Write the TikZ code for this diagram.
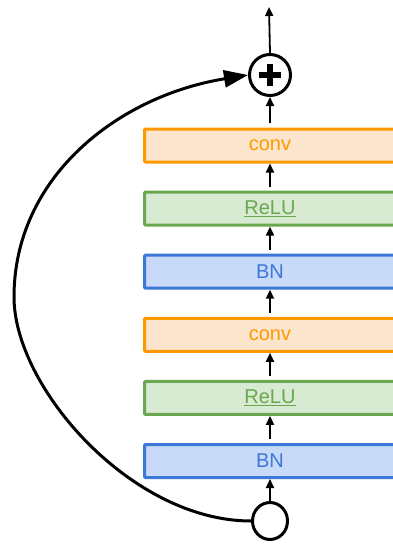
\documentclass[tikz,border=0pt]{standalone}
\usepackage{fontspec}
\setmainfont{Liberation Sans}
\usetikzlibrary{arrows.meta,shapes.geometric}
\definecolor{orB}{HTML}{FF9900}
\definecolor{orF}{HTML}{FCE5CD}
\definecolor{grB}{HTML}{6AA84F}
\definecolor{grF}{HTML}{D9EAD3}
\definecolor{blB}{HTML}{3C78D8}
\definecolor{blF}{HTML}{C9DAF8}
\begin{document}
\begin{tikzpicture}[x=1pt,y=-1pt,
  layer/.style={draw, line width=3pt, minimum width=251pt, minimum height=33pt, inner sep=0pt,
    rounded corners=1pt, font=\fontsize{20}{24}\selectfont},
  convbox/.style={layer, draw=orB, fill=orF, text=orB},
  relubox/.style={layer, draw=grB, fill=grF, text=grB},
  bnbox/.style={layer, draw=blB, fill=blF, text=blB},
  sarrow/.style={line width=1.8pt, -{Triangle[length=9pt,width=8pt]}},
  bigarrow/.style={line width=3pt, -{Triangle[length=24pt,width=17pt]}},
  ring/.style={draw, line width=3pt, inner sep=0pt}
]
\useasboundingbox (0,0) rectangle (393,544);
\clip (0,0) rectangle (393,544);

\node[convbox] (c1) at (270,145.5) {conv};
\node[relubox] (r1) at (270,208.6) {\underline{ReLU}};
\node[bnbox]   (b1) at (270,271.7) {BN};
\node[convbox] (c2) at (270,334.8) {conv};
\node[relubox] (r2) at (270,397.9) {\underline{ReLU}};
\node[bnbox]   (b2) at (270,461) {BN};

\node[ring, circle, minimum size=41pt,
  path picture={
    \draw[line width=6pt] ([xshift=-11pt]path picture bounding box.center) -- ([xshift=11pt]path picture bounding box.center);
    \draw[line width=6pt] ([yshift=-11pt]path picture bounding box.center) -- ([yshift=11pt]path picture bounding box.center);
  }] (plus) at (270,75) {};
\node[ring, ellipse, minimum width=35pt, minimum height=37pt] (in) at (270,521) {};

\coordinate (out) at (269,7);
\coordinate (L) at (14,297);

\draw[sarrow] (plus.north) -- (out);
\draw[sarrow] ([yshift=5pt]c1.north) -- (plus.south);
\draw[sarrow] ([yshift=4pt]r1.north) -- (c1.south);
\draw[sarrow] ([yshift=4pt]b1.north) -- (r1.south);
\draw[sarrow] ([yshift=4pt]c2.north) -- (b1.south);
\draw[sarrow] ([yshift=4pt]r2.north) -- (c2.south);
\draw[sarrow] ([yshift=4pt]b2.north) -- (r2.south);
\draw[sarrow] (in.north) -- (b2.south);

\draw[bigarrow] (in.west) .. controls (131,521) and (14,387) .. (L)
  .. controls (14,177) and (118,96) .. (plus.west);
\end{tikzpicture}
\end{document}
